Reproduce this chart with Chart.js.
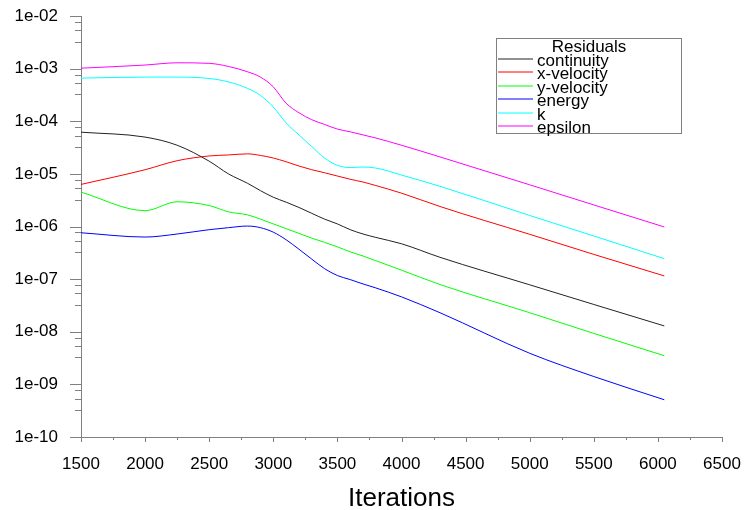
<!DOCTYPE html>
<html>
<head>
<meta charset="utf-8">
<script src="https://cdn.jsdelivr.net/npm/chart.js@4/dist/chart.umd.min.js"></script>
<style>
	html, body { margin:0; padding:0; background:#fff; }
	#wrap { width:744px; height:510px; }
</style>
</head>
<body>
<div id="wrap"><canvas id="res_graph"></canvas></div>
<script>
// iterations shared by every residual series
const iterations = [1500, 2000, 2250, 2500, 2650, 2800, 2900, 3000, 3100, 3200, 3300, 3400, 3500, 3600, 3700, 3800, 4000, 4300, 5000, 5500, 6050]

const continuity = [6.2e-5, 5.0e-5, 3.5e-5, 1.74e-5, 1.0e-5, 6.6e-6, 4.8e-6, 3.6e-6, 2.9e-6, 2.3e-6, 1.78e-6, 1.38e-6, 1.12e-6, 8.7e-7, 7.2e-7, 6.2e-7, 4.7e-7, 2.6e-7, 7.8e-8, 3.3e-8, 1.29e-8]
const xVelocity = [6.3e-6, 1.2e-5, 1.78e-5, 2.19e-5, 2.29e-5, 2.4e-5, 2.24e-5, 2.0e-5, 1.7e-5, 1.41e-5, 1.2e-5, 1.05e-5, 9.1e-6, 7.9e-6, 7.0e-6, 6.0e-6, 4.3e-6, 2.4e-6, 7.1e-7, 2.95e-7, 1.15e-7]
const yVelocity = [4.5e-6, 2.0e-6, 2.95e-6, 2.5e-6, 1.9e-6, 1.66e-6, 1.38e-6, 1.12e-6, 9.1e-7, 7.4e-7, 6.0e-7, 5.0e-7, 4.1e-7, 3.3e-7, 2.75e-7, 2.24e-7, 1.48e-7, 7.9e-8, 2.3e-8, 9.3e-9, 3.5e-9]
const energy = [7.6e-7, 6.3e-7, 7.2e-7, 8.7e-7, 9.5e-7, 1.02e-6, 9.5e-7, 7.8e-7, 5.6e-7, 3.7e-7, 2.4e-7, 1.58e-7, 1.17e-7, 9.8e-8, 8.1e-8, 6.8e-8, 4.6e-8, 2.3e-8, 3.9e-9, 1.41e-9, 5.1e-10]
const kRes = [6.6e-4, 6.9e-4, 6.9e-4, 6.5e-4, 5.6e-4, 4.2e-4, 3.1e-4, 1.86e-4, 9.3e-5, 5.5e-5, 3.3e-5, 2.0e-5, 1.45e-5, 1.32e-5, 1.35e-5, 1.29e-5, 9.5e-6, 5.8e-6, 1.62e-6, 6.6e-7, 2.45e-7]
const epsilon = [1.02e-3, 1.17e-3, 1.29e-3, 1.26e-3, 1.1e-3, 8.7e-4, 6.9e-4, 4.5e-4, 2.2e-4, 1.45e-4, 1.07e-4, 8.7e-5, 7.1e-5, 6.3e-5, 5.5e-5, 4.8e-5, 3.5e-5, 2.1e-5, 6.2e-6, 2.57e-6, 9.8e-7]

const seriesNames = ['continuity', 'x-velocity', 'y-velocity', 'energy', 'k', 'epsilon']
const seriesValues = [continuity, xVelocity, yVelocity, energy, kRes, epsilon]
const seriesColors = ['#222222', '#ff0000', '#00ff00', '#0000ff', '#00ffff', '#ff00ff']

const yMajorTicks = [1e-10, 1e-9, 1e-8, 1e-7, 1e-6, 1e-5, 1e-4, 1e-3, 1e-2]
const yMinorFactors = [0.77, 0.535, 0.325]
const xTicks = [1500, 1750, 2000, 2250, 2500, 2750, 3000, 3250, 3500, 3750, 4000, 4250, 4500, 4750, 5000, 5250, 5500, 5750, 6000, 6250, 6500]
const legendTitle = 'Residuals'
const xTitle = 'Iterations'

const FONT = 'Liberation Sans, Arial, sans-serif'
const AXIS = '#808080'

function isMajorY(v){
	const l = Math.log10(v)
	return Math.abs(l - Math.round(l)) < 1e-6
}

// tick marks drawn outside the plot, short for minor ones
const tickMarks = {
	id:'tickMarks',
	afterDraw(chart){
		const { ctx, chartArea, scales } = chart
		ctx.save()
		ctx.strokeStyle = AXIS
		ctx.lineWidth = 1
		ctx.beginPath()
		for(const t of scales.y.ticks){
			const y = Math.round(scales.y.getPixelForValue(t.value)) + 0.5
			const len = isMajorY(t.value) ? 11 : 6
			ctx.moveTo(chartArea.left - len, y)
			ctx.lineTo(chartArea.left, y)
		}
		for(const t of scales.x.ticks){
			const x = Math.round(scales.x.getPixelForValue(t.value)) + 0.5
			const len = t.value % 500 === 0 ? 5 : 3
			ctx.moveTo(x, chartArea.bottom)
			ctx.lineTo(x, chartArea.bottom + len)
		}
		ctx.stroke()
		ctx.restore()
	}
}

// boxed legend in the top right corner
const residualLegend = {
	id:'residualLegend',
	afterDatasetsDraw(chart){
		const { ctx } = chart
		const left = 496.5, top = 38.5, w = 185, h = 95
		ctx.save()
		ctx.fillStyle = '#fff'
		ctx.fillRect(left, top, w, h)
		ctx.strokeStyle = AXIS
		ctx.lineWidth = 1
		ctx.strokeRect(left, top, w, h)
		ctx.fillStyle = '#000'
		ctx.font = '17px ' + FONT
		ctx.textBaseline = 'alphabetic'
		ctx.textAlign = 'center'
		ctx.fillText(legendTitle, 589, 52)
		ctx.textAlign = 'left'
		chart.data.datasets.forEach((ds, i) => {
			const ly = Math.round(59 + i*13.4)
			ctx.strokeStyle = ds.borderColor
			ctx.beginPath()
			ctx.moveTo(498, ly)
			ctx.lineTo(533, ly)
			ctx.stroke()
			ctx.fillStyle = '#000'
			ctx.fillText(ds.label, 537, 66 + i*13.4)
		})
		ctx.restore()
	}
}

const datasets = seriesNames.map((name, i) => ({
	label:name,
	data:iterations.map((it, j) => ({ x:it, y:seriesValues[i][j] })),
	borderColor:seriesColors[i],
	backgroundColor:seriesColors[i],
	borderWidth:1,
	pointRadius:0,
	cubicInterpolationMode:'monotone',
	fill:false
}))

new Chart(document.getElementById('res_graph'), {
	type:'line',
	data:{ datasets },
	options:{
		responsive:true,
		maintainAspectRatio:false,
		animation:false,
		layout:{ padding:0 },
		plugins:{
			legend:{ display:false },
			tooltip:{ enabled:false }
		},
		scales:{
			x:{
				type:'linear',
				min:1500,
				max:6500,
				afterBuildTicks:scale => { scale.ticks = xTicks.map(v => ({ value:v })) },
				afterFit:scale => {
					scale.height = 73
					scale.paddingLeft = 0
					scale.paddingRight = 22
				},
				grid:{ display:false, drawTicks:false },
				border:{ display:true, color:AXIS, width:1 },
				ticks:{
					autoSkip:false,
					maxRotation:0,
					padding:17,
					color:'#000',
					font:{ family:FONT, size:17 },
					callback:v => v % 500 === 0 ? String(v) : ''
				},
				title:{
					display:true,
					text:xTitle,
					color:'#000',
					font:{ family:FONT, size:26, lineHeight:1 },
					padding:{ top:0, bottom:-2 }
				}
			},
			y:{
				type:'logarithmic',
				min:1e-10,
				max:1e-2,
				afterBuildTicks:scale => {
					const ticks = yMajorTicks.map(m => ({ value:m, major:true }))
					for(const m of yMajorTicks.slice(1)){
						for(const f of yMinorFactors) ticks.push({ value:m*f })
					}
					ticks.sort((a, b) => a.value - b.value)
					scale.ticks = ticks
				},
				afterFit:scale => {
					scale.width = 81
					scale.paddingTop = 16
					scale.paddingBottom = 0
				},
				grid:{ display:false, drawTicks:false },
				border:{ display:true, color:AXIS, width:1 },
				ticks:{
					autoSkip:false,
					padding:23,
					color:'#000',
					font:{ family:FONT, size:17 },
					callback:v => {
						if(!isMajorY(v)) return ''
						const e = Math.round(Math.log10(v))
						return '1e-' + String(-e).padStart(2, '0')
					}
				}
			}
		}
	},
	plugins:[tickMarks, residualLegend]
})
</script>
</body>
</html>
